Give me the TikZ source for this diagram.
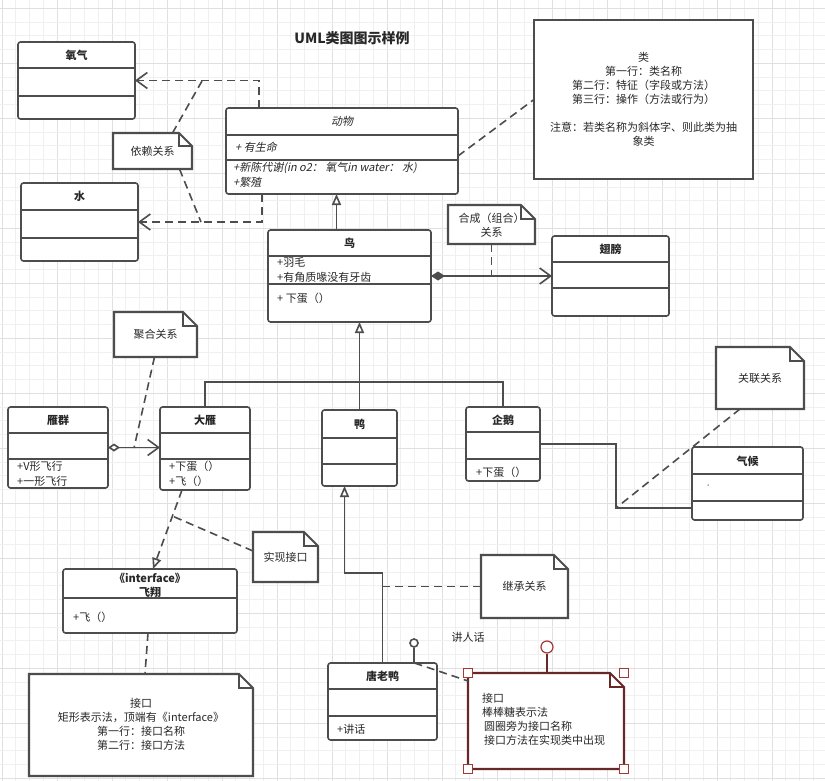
\documentclass[tikz,border=0pt]{standalone}
\usepackage{fontspec}
\setmainfont{Noto Sans CJK SC}
\newfontfamily\itfont[FakeSlant=0.2]{Noto Sans CJK SC}
\usetikzlibrary{arrows.meta,fit,calc}
\definecolor{linec}{RGB}{77,77,77}
\definecolor{txtc}{RGB}{40,40,40}
\definecolor{gridminor}{RGB}{240,240,240}
\definecolor{gridmajor}{RGB}{224,224,224}
\definecolor{selc}{RGB}{105,40,40}
\definecolor{handlec}{RGB}{165,55,55}
\newcommand\classbox[5]{\node[cls, fit={(#2,#3) (#4,#5)}] (#1) {};}
\newcommand\divider[2]{\draw[divl] (#1.west |- 0,#2) -- (#1.east |- 0,#2);}
\newcommand\dognote[3][linec]{%
  \draw[noteline, draw=#1] (#2.south west) -- (#2.north west) -- ([xshift=-#3]#2.north east) -- ([yshift=-#3]#2.north east) -- (#2.south east) -- cycle;
  \draw[noteline, draw=#1, fill=none] ([xshift=-#3]#2.north east) -- ([xshift=-#3,yshift=-#3]#2.north east) -- ([yshift=-#3]#2.north east);}
\begin{document}
\begin{tikzpicture}[x=1pt,y=-1pt,
  every node/.style={font=\fontsize{11}{14}\selectfont, text=txtc},
  cls/.style={draw=linec, line width=1.6pt, rounded corners=2.5pt, fill=white, inner sep=0pt, outer sep=0pt},
  divl/.style={draw=linec, line width=1.6pt},
  region/.style={inner sep=0pt, outer sep=0pt},
  notetext/.style={align=center, inner sep=0pt},
  noteline/.style={line width=2.1pt, fill=white, line join=miter},
  conn/.style={draw=linec, line width=1.6pt},
  dsh/.style={conn, dash pattern=on 8pt off 5pt},
  opena/.style={-{Straight Barb[length=11pt,width=16pt]}},
  inh/.style={-{Triangle[length=11pt,width=9pt,fill=white]}},
  hdr/.style={font=\fontsize{11}{14}\selectfont\bfseries},
  itx/.style={font=\fontsize{11}{14}\selectfont\itfont},
  attr/.style={anchor=west, inner sep=0pt},
  handle/.style={draw=handlec, line width=1.2pt, fill=white, minimum size=9pt, inner sep=0pt}
]
\useasboundingbox (0,0) rectangle (825,781);
\fill[white] (0,0) rectangle (825,781);
% grid
\foreach \k in {0,...,60}{
  \pgfmathsetmacro\xx{2+13.75*\k}
  \pgfmathtruncatemacro\m{mod(\k,4)}
  \ifnum\m=0 \draw[gridmajor, line width=0.8pt] (\xx,0) -- (\xx,781);
  \else \draw[gridminor, line width=0.8pt] (\xx,0) -- (\xx,781); \fi
}
\foreach \k in {0,...,57}{
  \pgfmathsetmacro\yy{8.25+13.75*\k}
  \pgfmathtruncatemacro\m{mod(\k,4)}
  \ifnum\m=0 \draw[gridmajor, line width=0.8pt] (0,\yy) -- (825,\yy);
  \else \draw[gridminor, line width=0.8pt] (0,\yy) -- (825,\yy); \fi
}

% title
\node[font=\fontsize{14}{16}\selectfont\bfseries] (title) at (352,38) {UML类图图示样例};

% dependency (under boxes)
\node[region, fit={(226,108) (458,194)}] (aniR) {};
\node[region, fit={(18,42) (135,119)}] (oxyR) {};
\node[region, fit={(21,183) (138,261)}] (watR) {};
\draw[dsh, opena] ([xshift=33]aniR.north west) |- (oxyR.east);
\draw[dsh, opena] ([xshift=36]aniR.south west) |- (watR.east);
\coordinate (depA) at (202,81);
\coordinate (depB) at (201,222);

% ---------- classes ----------
\classbox{oxy}{18}{42}{135}{119}
\divider{oxy}{68}\divider{oxy}{96}
\node[hdr] (oxyT) at (oxy.north |- 0,55) {氧气};

\classbox{wat}{21}{183}{138}{261}
\divider{wat}{210}\divider{wat}{238}
\node[hdr] (watT) at (wat.north |- 0,196) {水};

\classbox{ani}{226}{108}{458}{194}
\divider{ani}{135}\divider{ani}{160}
\node[itx] (aniT) at (ani.north |- 0,121) {动物};
\node[attr, itx] (aniA1) at (235,147) {+ 有生命};
\node[attr, itx] (aniM1) at (233,168) {+新陈代谢(in o2： 氧气in water： 水)};
\node[attr, itx] (aniM2) at (233,182) {+繁殖};

\classbox{bird}{268}{230}{431}{322}
\divider{bird}{256}\divider{bird}{284}
\node[hdr] (birdT) at (bird.north |- 0,243) {鸟};
\node[attr] (birdA1) at (277,262) {+羽毛};
\node[attr] (birdA2) at (277,277) {+有角质喙没有牙齿};
\node[attr] (birdM1) at (277,298) {+ 下蛋（）};

\classbox{wing}{552}{236}{669}{316}
\divider{wing}{262}\divider{wing}{288}
\node[hdr] (wingT) at (wing.north |- 0,249) {翅膀};

\classbox{flock}{8}{407}{108}{488}
\divider{flock}{433}\divider{flock}{459}
\node[hdr] (flockT) at (flock.north |- 0,420) {雁群};
\node[attr] (flockM1) at (17,466) {+V形飞行};
\node[attr] (flockM2) at (17,481) {+一形飞行};

\classbox{goose}{160}{407}{250}{490}
\divider{goose}{433}\divider{goose}{459}
\node[hdr] (gooseT) at (goose.north |- 0,420) {大雁};
\node[attr] (gooseM1) at (169,466) {+下蛋（）};
\node[attr] (gooseM2) at (169,481) {+飞（）};

\classbox{duck}{322}{410}{397}{486}
\divider{duck}{438}\divider{duck}{464}
\node[hdr] (duckT) at (duck.north |- 0,424) {鸭};

\classbox{peng}{466}{407}{540}{481}
\divider{peng}{432}\divider{peng}{459}
\node[hdr] (pengT) at (peng.north |- 0,420) {企鹅};
\node[attr] (pengM1) at (476,472) {+下蛋（）};

\classbox{clim}{692}{447}{803}{520}
\divider{clim}{474}\divider{clim}{501}
\node[hdr] (climT) at (clim.north |- 0,461) {气候};
\node[attr, font=\fontsize{7}{8}\selectfont] (climA) at (702,488) {`};

\classbox{fly}{63}{569}{237}{633}
\divider{fly}{598}
\node[hdr] (flyS) at (fly.north |- 0,578) {《interface》};
\node[hdr] (flyT) at (fly.north |- 0,592) {飞翔};
\node[attr] (flyM1) at (73,617) {+飞（）};

\classbox{donald}{328}{663}{437}{740}
\divider{donald}{689}\divider{donald}{716}
\node[hdr] (donaldT) at (donald.north |- 0,676) {唐老鸭};
\node[attr] (donaldM1) at (337,729) {+讲话};

% ---------- notes ----------
\node[region, fit={(113,133) (192,169)}] (dep) {};
\dognote{dep}{13}
\node[notetext] (depT) at (dep.center) {依赖关系};

\node[region, draw=linec, line width=2.1pt, fill=white, fit={(534,20) (753,179)}] (clsnote) {};
\node[notetext] (clsnoteT) at (clsnote.center) {类\\第一行：类名称\\第二行：特征（字段或方法）\\第三行：操作（方法或行为）\\[14pt]注意：若类名称为斜体字、则此类为抽\\象类};

\node[region, fit={(448,205) (535,244)}] (comp) {};
\dognote{comp}{14}
\node[notetext] (compT) at ([yshift=-1]comp.center) {合成（组合）\\关系};

\node[region, fit={(114,312) (197,357)}] (agg) {};
\dognote{agg}{14}
\node[notetext] (aggT) at (agg.center) {聚合关系};

\node[region, fit={(716,347) (804,409)}] (assoc) {};
\dognote{assoc}{14}
\node[notetext] (assocT) at (assoc.center) {关联关系};

\node[region, fit={(253,532) (318,582)}] (impl) {};
\dognote{impl}{14}
\node[notetext] (implT) at (impl.center) {实现接口};

\node[region, fit={(481,555) (568,618)}] (inhnote) {};
\dognote{inhnote}{14}
\node[notetext] (inhnoteT) at (inhnote.center) {继承关系};

\node[region, fit={(29,674) (253,776)}] (ifn) {};
\dognote{ifn}{14}
\node[notetext] (ifnT) at ([yshift=1]ifn.center) {接口\\矩形表示法，顶端有《interface》\\第一行：接口名称\\第二行：接口方法};

\node[region, fit={(468,673) (624,769)}] (lol) {};
\dognote[selc]{lol}{14}
\node[align=left, anchor=north west, inner sep=0pt] (lolT) at (482,693) {接口\\棒棒糖表示法\\\hspace{2pt}圆圈旁为接口名称\\\hspace{2pt}接口方法在实现类中出现};

% ---------- connectors ----------
\draw[dsh] ([xshift=20]dep.north) -- (depA);
\draw[dsh] ([xshift=27]dep.south) -- (depB);
\draw[dsh] ([yshift=-5]ani.east) -- (clsnote.west);
\coordinate (bA) at ([xshift=-13]bird.north);
\draw[conn, inh] (bA) -- (bA |- ani.south);
\draw[conn, {Diamond[length=14pt,width=9pt,fill=linec]}-{Straight Barb[length=11pt,width=16pt]}] (bird.east) -- (wing.west);
\draw[dsh] (comp.south) -- (comp.south |- bird.east);
\coordinate (junc) at (duck.north |- 0,382);
\draw[conn, inh] (duck.north) -- (duck.north |- bird.south);
\draw[conn] (goose.north) |- (junc);
\draw[conn] (peng.north) |- (junc);
\draw[conn, {Diamond[length=12pt,width=8pt,fill=white]}-{Straight Barb[length=11pt,width=16pt]}] (flock.east) -- (flock.east -| goose.west);
\coordinate (aggA) at (134,448);
\draw[dsh] ([xshift=-1]agg.south) -- (aggA);
\coordinate (gA) at ([xshift=-23]goose.south);
\coordinate (fA) at ([xshift=3]fly.north);
\draw[dsh, inh] (gA) -- (fA);
\coordinate (realA) at ($(gA)!0.33!(fA)$);
\draw[dsh] ([yshift=6]impl.west) -- (realA);
\draw[dsh] ([xshift=-2]fly.south) -- ([xshift=4]ifn.north);
\coordinate (asB) at (616,508);
\draw[conn] (peng.east) -| (asB) -- (asB -| clim.west);
\draw[dsh] ([xshift=-20]assoc.south) -- (asB);
\coordinate (dkA) at ([xshift=-15]duck.south);
\coordinate (dnB) at (donald.north |- 0,573);
\draw[conn, inh] (donald.north) -- (dnB) -| (dkA);
\draw[dsh] (inhnote.west) -- (inhnote.west -| donald.north);
\node[circle, draw=linec, line width=1.6pt, fill=white, minimum size=8pt, inner sep=0pt] (lolli) at (414,643) {};
\draw[conn] (lolli.south) -- (lolli.south |- donald.north);
\draw[dsh] ([xshift=32]donald.north) -- ([yshift=-8]lol.north west);
\node (talk) at (468,637) {讲人话};
\node[circle, draw=handlec, line width=1.2pt, fill=white, minimum size=12pt, inner sep=0pt] (rot) at (547,647) {};
\draw[draw=selc, line width=1.2pt] (rot.south) -- (rot.south |- lol.north);
\node[handle] (h1) at (lol.north west) {};
\node[handle] (h2) at (lol.north east) {};
\node[handle] (h3) at (lol.south west) {};
\node[handle] (h4) at (lol.south east) {};
\end{tikzpicture}
\end{document}
